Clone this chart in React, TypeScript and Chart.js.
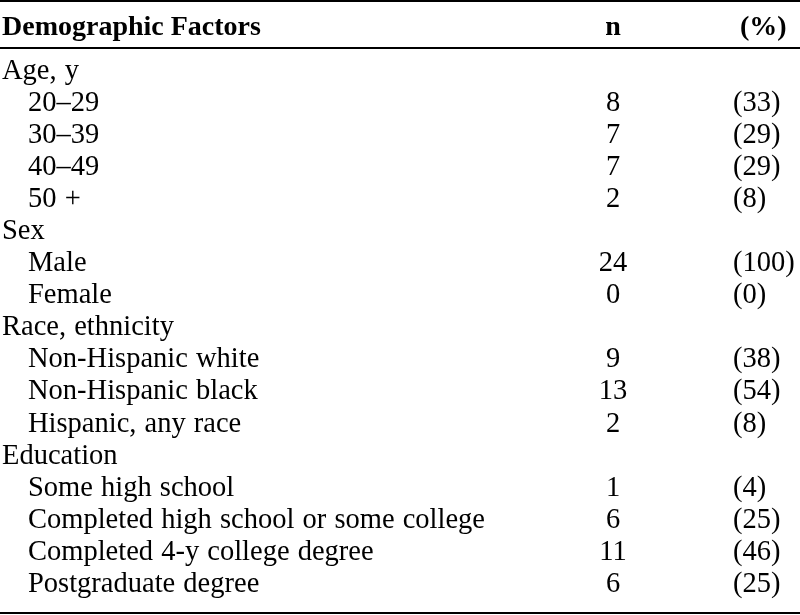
import React, { useEffect, useRef } from "react";
import { Chart, registerables } from "chart.js";

Chart.register(...registerables);

const headers = ["Demographic Factors", "n", "(%)"];
const rowLabels = [
  "Age, y",
  "20–29",
  "30–39",
  "40–49",
  "50 +",
  "Sex",
  "Male",
  "Female",
  "Race, ethnicity",
  "Non-Hispanic white",
  "Non-Hispanic black",
  "Hispanic, any race",
  "Education",
  "Some high school",
  "Completed high school or some college",
  "Completed 4-y college degree",
  "Postgraduate degree",
];
const rowIsGroup = [true, false, false, false, false, true, false, false, true, false, false, false, true, false, false, false, false];
const nValues: (number | null)[] = [null, 8, 7, 7, 2, null, 24, 0, null, 9, 13, 2, null, 1, 6, 11, 6];
const pctValues: (number | null)[] = [null, 33, 29, 29, 8, null, 100, 0, null, 38, 54, 8, null, 4, 25, 46, 25];

// column anchors on the x scale (0..800)
const COL_GROUP = 2;
const COL_SUB = 28;
const COL_N = 613;
const COL_PCT = 733;
const COL_PCT_HEAD = 740;
// y-scale positions (row index units, text baselines)
const Y_MIN = -2.4649;
const Y_MAX = 16.724;
const HEADER_Y = -1.3729;
const RULES = [-2.4337, -0.9672, 16.66];

const FONT = '"Liberation Serif", "Times New Roman", serif';

const tablePlugin = {
  id: "tableText",
  afterDraw(chart: any) {
    const { ctx, scales } = chart;
    const xs = scales.x;
    const ys = scales.y;
    ctx.save();
    // rules
    ctx.strokeStyle = "#000";
    ctx.lineWidth = 2;
    RULES.forEach((r) => {
      const py = Math.round(ys.getPixelForValue(r));
      ctx.beginPath();
      ctx.moveTo(xs.getPixelForValue(0), py);
      ctx.lineTo(xs.getPixelForValue(800), py);
      ctx.stroke();
    });
    ctx.fillStyle = "#000";
    ctx.textBaseline = "alphabetic";
    // headers
    ctx.font = `bold 28px ${FONT}`;
    const hy = ys.getPixelForValue(HEADER_Y);
    ctx.textAlign = "left";
    ctx.fillText(headers[0], xs.getPixelForValue(COL_GROUP), hy);
    ctx.textAlign = "center";
    ctx.fillText(headers[1], xs.getPixelForValue(COL_N), hy);
    ctx.textAlign = "left";
    ctx.fillText(headers[2], xs.getPixelForValue(COL_PCT_HEAD), hy);
    // body
    ctx.font = `28.5px ${FONT}`;
    try {
      (ctx as any).wordSpacing = "1px";
    } catch (e) {}
    rowLabels.forEach((label, i) => {
      const py = ys.getPixelForValue(i);
      ctx.textAlign = "left";
      ctx.fillText(label, xs.getPixelForValue(rowIsGroup[i] ? COL_GROUP : COL_SUB), py);
      if (nValues[i] !== null) {
        ctx.textAlign = "center";
        ctx.fillText(String(nValues[i]), xs.getPixelForValue(COL_N), py);
      }
      if (pctValues[i] !== null) {
        ctx.textAlign = "left";
        ctx.fillText(`(${pctValues[i]})`, xs.getPixelForValue(COL_PCT), py);
      }
    });
    ctx.restore();
  },
};

export default function App() {
  const ref = useRef<HTMLCanvasElement | null>(null);
  useEffect(() => {
    if (!ref.current) return;
    const points = rowLabels.map((_, i) => ({ x: COL_N, y: i }));
    const chart = new Chart(ref.current, {
      type: "scatter",
      data: {
        datasets: [
          { data: points, pointRadius: 0, pointHoverRadius: 0, showLine: false },
        ],
      },
      options: {
        animation: false,
        responsive: false,
        events: [],
        layout: { padding: 0 },
        plugins: { legend: { display: false }, tooltip: { enabled: false } },
        scales: {
          x: { type: "linear", min: 0, max: 800, display: false },
          y: { type: "linear", min: Y_MIN, max: Y_MAX, reverse: true, display: false },
        },
      },
      plugins: [tablePlugin],
    });
    return () => chart.destroy();
  }, []);
  return (
    <div style={{ position: "absolute", left: 0, top: 0, width: 800, height: 615, background: "#fff" }}>
      <canvas ref={ref} width={800} height={615} />
    </div>
  );
}
